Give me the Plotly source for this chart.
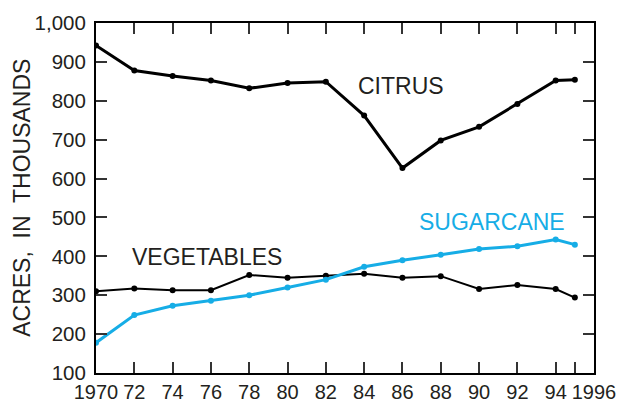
import plotly.graph_objects as go

years = [1970, 1972, 1974, 1976, 1978, 1980, 1982, 1984, 1986, 1988, 1990, 1992, 1994, 1995]
citrus = [942, 878, 864, 852, 832, 846, 849, 762, 627, 698, 733, 792, 852, 854]
vegetables = [310, 317, 313, 313, 352, 345, 350, 355, 345, 349, 316, 326, 316, 294]
sugarcane = [178, 249, 273, 286, 300, 320, 340, 373, 390, 404, 419, 426, 443, 430]

x_tickvals = [1970, 1972, 1974, 1976, 1978, 1980, 1982, 1984, 1986, 1988, 1990, 1992, 1994, 1995, 1996]
x_ticktext = ["1970", "72", "74", "76", "78", "80", "82", "84", "86", "88", "90", "92", "94", "", "1996"]
y_tickvals = [100, 200, 300, 400, 500, 600, 700, 800, 900, 1000]
y_ticktext = ["100", "200", "300", "400", "500", "600", "700", "800", "900", "1,000"]

BLUE = "#16ADE6"
TXT = "#231F20"
FONT = "Liberation Sans, Arial, sans-serif"

fig = go.Figure()
fig.add_trace(go.Scatter(x=years, y=vegetables, mode="lines+markers",
                         line=dict(color="#000000", width=2), marker=dict(size=6, color="#000000")))
fig.add_trace(go.Scatter(x=years, y=sugarcane, mode="lines+markers",
                         line=dict(color=BLUE, width=3), marker=dict(size=6, color=BLUE)))
fig.add_trace(go.Scatter(x=years, y=citrus, mode="lines+markers",
                         line=dict(color="#000000", width=3), marker=dict(size=6, color="#000000")))

fig.add_annotation(x=1985.9, y=839, text="CITRUS", showarrow=False,
                   font=dict(size=23, color=TXT, family=FONT))
fig.add_annotation(x=1975.8, y=399, text="VEGETABLES", showarrow=False,
                   font=dict(size=23, color=TXT, family=FONT))
fig.add_annotation(x=1990.7, y=489, text="SUGARCANE", showarrow=False,
                   font=dict(size=23, color=BLUE, family=FONT))
fig.add_annotation(xref="paper", yref="paper", x=-0.149, y=0.5, text="ACRES,  IN  THOUSANDS",
                   textangle=-90, showarrow=False, xanchor="center", yanchor="middle",
                   font=dict(size=23, color=TXT, family=FONT))

fig.update_layout(
    width=618, height=402,
    margin=dict(l=96, r=24, t=23, b=29, autoexpand=False),
    paper_bgcolor="white", plot_bgcolor="white",
    showlegend=False,
    font=dict(family=FONT, color=TXT, size=20),
)
fig.update_xaxes(range=[1970, 1996], tickvals=x_tickvals, ticktext=x_ticktext,
                 ticks="inside", ticklen=11, tickwidth=1.5, tickcolor="#333",
                 showline=True, linecolor="#000", linewidth=2, mirror="ticks",
                 showgrid=False, zeroline=False, automargin=False,
                 tickfont=dict(size=20, color=TXT))
fig.update_yaxes(range=[100, 1000], tickvals=y_tickvals, ticktext=y_ticktext,
                 ticks="inside", ticklen=11, tickwidth=1.5, tickcolor="#333",
                 showline=True, linecolor="#000", linewidth=2, mirror="ticks",
                 showgrid=False, zeroline=False, automargin=False, ticklabelstandoff=4,
                 tickfont=dict(size=20.5, color=TXT))

# remove the page's default 8px body margin so the figure fills the window exactly
fig.write_html("out.html",
               config={"displayModeBar": False},
               post_script="document.body.style.margin='0';document.body.style.overflow='hidden';")
